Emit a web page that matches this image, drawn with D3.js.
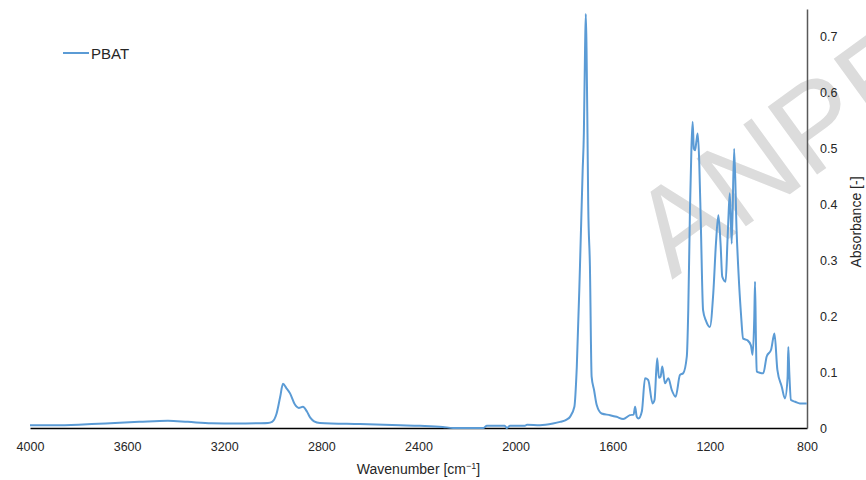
<!DOCTYPE html>
<html>
<head>
<meta charset="utf-8">
<script src="https://cdn.jsdelivr.net/npm/d3@7"></script>
<style>
    body { margin: 0; background: #fff; }
    text { font-family: 'Liberation Sans', Arial, sans-serif; }
</style>
</head>
<body>
<div id="chart"></div>
<script>
// spectrum (wavenumber in cm-1, absorbance)
const wavenumbers = [
    4000, 3900, 3800, 3746, 3650, 3550, 3432, 3350, 3252, 3150, 3061, 3020,
    3003, 2985, 2970, 2958, 2945, 2929, 2909, 2893, 2876, 2859, 2845, 2830, 2806,
    2641, 2476, 2394, 2300, 2258, 2200, 2134, 2118, 2045, 2036, 2023, 1962,
    1953, 1900, 1846, 1817, 1790, 1776, 1758, 1748, 1735, 1724, 1719, 1714,
    1711, 1708, 1704, 1701, 1694, 1687, 1677, 1666, 1646, 1611, 1584, 1557,
    1529, 1514, 1508, 1501, 1494, 1480, 1467, 1454, 1436, 1428, 1417, 1410,
    1403, 1396, 1385, 1371, 1357, 1341, 1323, 1310, 1295, 1289, 1282, 1276,
    1271, 1266, 1261, 1255, 1250, 1244, 1237, 1228, 1217, 1200, 1186, 1175,
    1165, 1156, 1149, 1135, 1128, 1124, 1118, 1110, 1100, 1090, 1082, 1072,
    1063, 1045, 1031, 1024, 1017, 1014, 1010, 1007, 995, 980, 966, 948,
    934, 922, 904, 891, 880, 877, 873, 866, 849, 829, 801
];

const absorbance = [
    0.005, 0.005, 0.006, 0.007, 0.009, 0.011, 0.013, 0.011, 0.0085, 0.008, 0.0085, 0.009,
    0.011, 0.025, 0.055, 0.079, 0.072, 0.062, 0.042, 0.036, 0.038, 0.029, 0.018, 0.012, 0.009,
    0.007, 0.005, 0.004, 0.002, 0.0, 0.0, 0.0, 0.004, 0.004, 0.0, 0.004, 0.004,
    0.006, 0.005, 0.008, 0.011, 0.015, 0.02, 0.038, 0.11, 0.289, 0.46, 0.527, 0.68,
    0.741, 0.68, 0.527, 0.4, 0.289, 0.092, 0.068, 0.041, 0.026, 0.023, 0.02, 0.016,
    0.023, 0.024, 0.038, 0.02, 0.017, 0.03, 0.089, 0.086, 0.044, 0.05, 0.125, 0.09,
    0.092, 0.11, 0.08, 0.089, 0.068, 0.056, 0.095, 0.098, 0.128, 0.211, 0.39, 0.5,
    0.548, 0.5, 0.497, 0.515, 0.527, 0.479, 0.36, 0.211, 0.193, 0.181, 0.241, 0.33,
    0.381, 0.33, 0.271, 0.262, 0.33, 0.372, 0.42, 0.33, 0.5, 0.354, 0.277, 0.205,
    0.16, 0.157, 0.148, 0.131, 0.2, 0.262, 0.15, 0.101, 0.099, 0.098, 0.128, 0.14,
    0.169, 0.104, 0.074, 0.053, 0.09, 0.145, 0.1, 0.05, 0.047, 0.044, 0.044
];

const seriesName = 'PBAT';
const xTicks = [4000, 3600, 3200, 2800, 2400, 2000, 1600, 1200, 800];
const yTicks = [0, 0.1, 0.2, 0.3, 0.4, 0.5, 0.6, 0.7];

const spectrum = wavenumbers.map((w, i) => ({ wavenumber: w, value: absorbance[i] }));

const svgWidth = 866;
const svgHeight = 480;
const margin = { top: 9, right: 59, bottom: 52, left: 30 };
const width = svgWidth - margin.left - margin.right;
const height = svgHeight - margin.top - margin.bottom;

const svg = d3.select('#chart')
    .append('svg')
    .attr('width', svgWidth)
    .attr('height', svgHeight);

// watermark sits behind everything else
svg.append('text')
    .attr('transform', 'translate(672, 280) rotate(-36)')
    .style('font-size', '122px')
    .style('fill', '#dcdcdc')
    .text('ANPE');

const bounds = svg.append('g')
    .attr('transform', `translate(${margin.left}, ${margin.top})`);

const xScale = d3.scaleLinear()
    .domain([4000, 800])
    .range([0, width]);

const yScale = d3.scaleLinear()
    .domain([0, 0.75])
    .range([height, 0]);

const xAxisGroup = bounds.append('g')
    .attr('class', 'x axis')
    .attr('transform', `translate(0, ${height})`)
    .call(d3.axisBottom(xScale)
        .tickValues(xTicks)
        .tickSize(0)
        .tickPadding(14)
        .tickFormat(d => d));

xAxisGroup.select('.domain')
    .attr('stroke', '#000')
    .attr('stroke-width', 1.5);

const yAxisGroup = bounds.append('g')
    .attr('class', 'y axis')
    .attr('transform', `translate(${width}, 0)`)
    .call(d3.axisRight(yScale)
        .tickValues(yTicks)
        .tickSize(0)
        .tickPadding(13)
        .tickFormat(d => d));

yAxisGroup.select('.domain')
    .attr('stroke', '#595959')
    .attr('stroke-width', 1.5);

bounds.selectAll('.axis text')
    .style('font-size', '12.5px')
    .style('fill', '#262626');

const lineGenerator = d3.line()
    .x(d => xScale(d.wavenumber))
    .y(d => yScale(d.value))
    .curve(d3.curveMonotoneX);

bounds.append('path')
    .datum(spectrum)
    .attr('class', 'line-series pbat')
    .attr('d', lineGenerator)
    .style('fill', 'none')
    .style('stroke', '#5b9bd5')
    .style('stroke-width', 2)
    .style('stroke-linejoin', 'round');

// axis titles
const xTitle = svg.append('text')
    .attr('x', margin.left + width / 2)
    .attr('y', 474)
    .attr('text-anchor', 'middle')
    .style('font-size', '14px')
    .style('fill', '#262626');

xTitle.append('tspan').text('Wavenumber [cm');
xTitle.append('tspan')
    .attr('dy', -5)
    .style('font-size', '9px')
    .text('\u22121');
xTitle.append('tspan')
    .attr('dy', 5)
    .text(']');

svg.append('text')
    .attr('transform', `translate(861, 222) rotate(-90)`)
    .attr('text-anchor', 'middle')
    .style('font-size', '14px')
    .style('fill', '#262626')
    .text('Absorbance [-]');

// legend
const legend = svg.append('g')
    .attr('transform', 'translate(63, 53)');

legend.append('line')
    .attr('x1', 0)
    .attr('x2', 26)
    .attr('stroke', '#5b9bd5')
    .attr('stroke-width', 2);

legend.append('text')
    .attr('x', 28)
    .attr('y', 5.5)
    .style('font-size', '15px')
    .style('fill', '#262626')
    .text(seriesName);
</script>
</body>
</html>
